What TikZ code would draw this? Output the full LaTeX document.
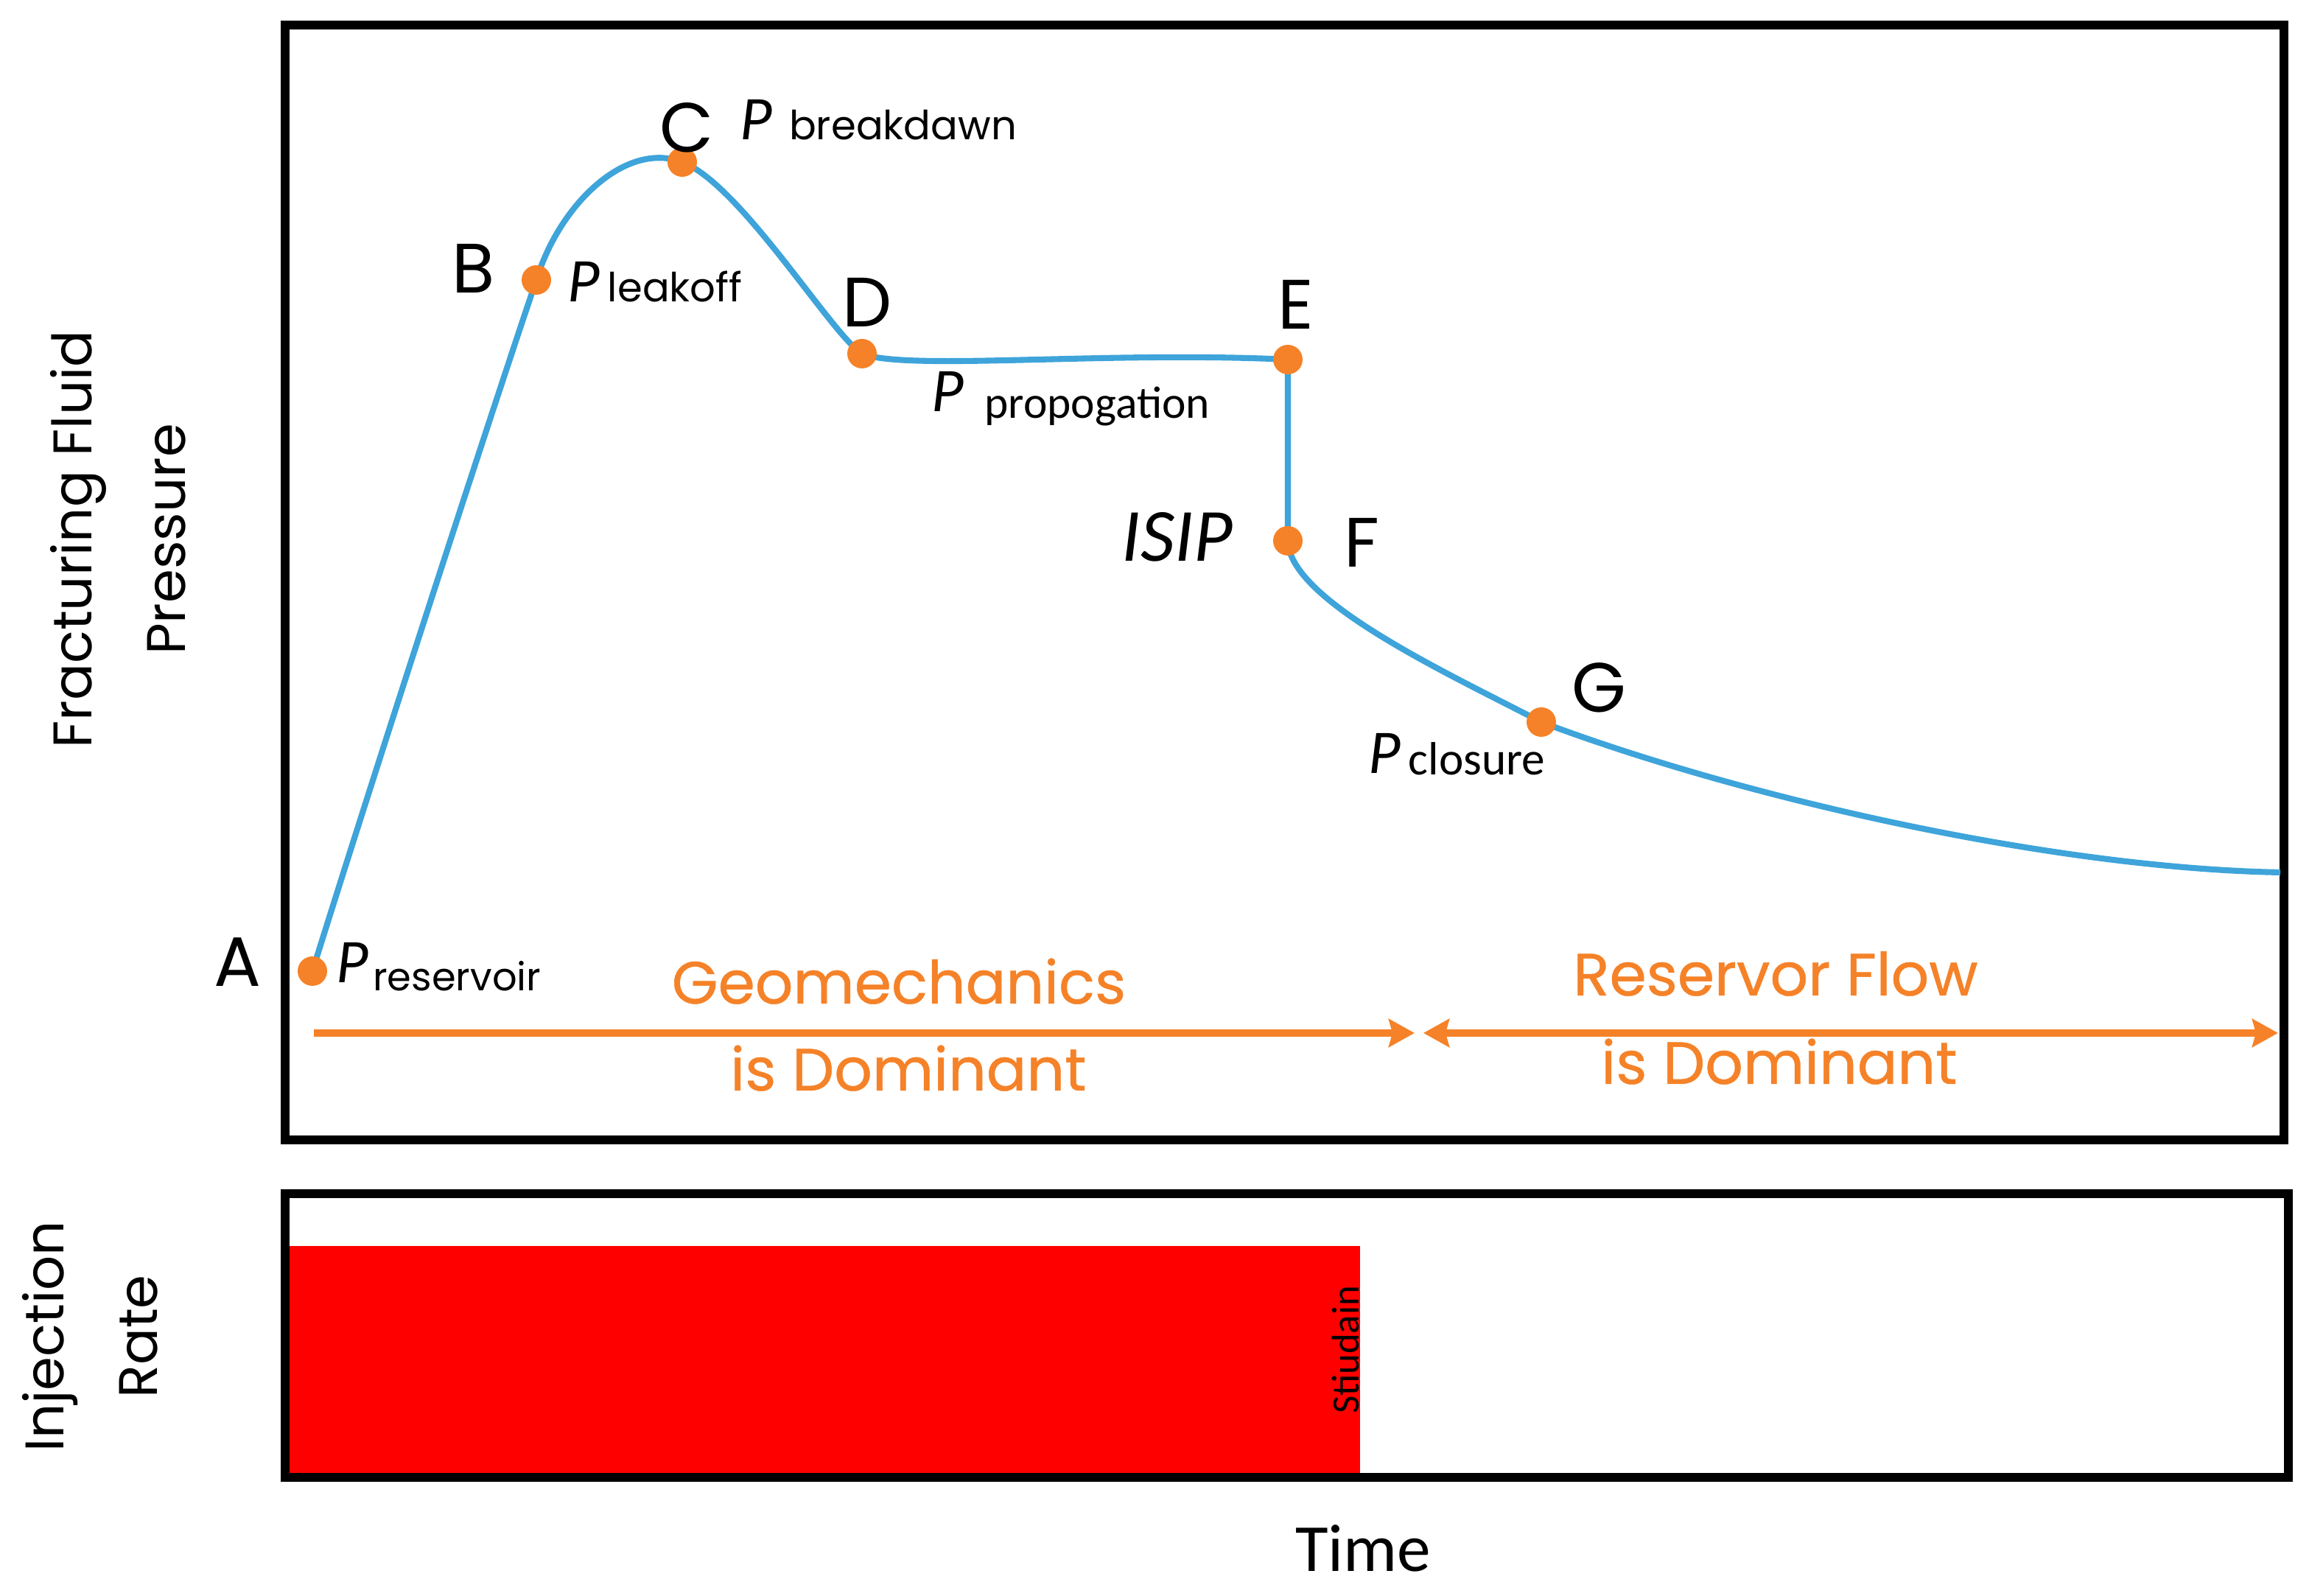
\documentclass[tikz,border=0pt]{standalone}
\usepackage{fontspec}
\setmainfont{Poppins}
\newfontfamily\calfont{Carlito}
\newfontfamily\orfont{Poppins}[FakeBold=0.6]
\usetikzlibrary{arrows.meta}
\definecolor{curveblue}{RGB}{62,164,218}
\definecolor{ptorange}{RGB}{245,130,40}
\newcommand{\pmark}{{\calfont\itshape\fontsize{24}{28}\selectfont P}}
\newcommand{\psubs}[3]{\pmark\hspace{#1}\raisebox{#2}{#3}}

\begin{document}
\begin{tikzpicture}[
    box/.style={draw=black,line width=3.5pt},
    ptdot/.style={circle,fill=ptorange,inner sep=0pt,minimum size=0.4cm},
    ptname/.style={inner sep=0pt,anchor=base,font=\fontsize{27}{32}\selectfont},
    plabel/.style={inner sep=0pt,anchor=base west},
    regime/.style={inner sep=0pt,anchor=base,text=ptorange,font=\orfont\fontsize{23}{28}\selectfont},
    regarrow/.style={draw=ptorange,line width=2.8pt},
    axis/.style={align=center,rotate=90,font=\fontsize{21}{36}\selectfont}
]
\useasboundingbox (0,0) rectangle (31.34,21.66);
\fill[red] (3.92,1.65) rectangle (18.46,4.75);
\begin{scope}
    \clip (3.92,1.65) rectangle (18.46,4.75);
    \node[rotate=90,anchor=base,inner sep=0pt,font=\calfont\fontsize{15}{18}\selectfont] (stopLbl) at (18.44,3.34) {Stiudain};
\end{scope}
\draw[box] (3.87,6.19) rectangle (31.0,21.32);
\draw[box] (3.87,1.61) rectangle (31.06,5.46);

\foreach \n/\x/\y in {A/4.24/8.48,B/7.28/17.86,C/9.26/19.46,D/11.70/16.86,E/17.48/16.78,F/17.48/14.32,G/20.92/11.86}
    \coordinate (\n) at (\x,\y);
\coordinate (tail) at (30.95,9.82);

\draw[curveblue,line width=2.3pt] (A) .. controls (5.24,11.68) and (6.80,16.45) .. (B)
    .. controls (7.6,18.9) and (8.5,19.75) .. (C)
    .. controls (10.05,19.16) and (11.3,17.1) .. (D)
    .. controls (12.3,16.62) and (15.0,16.9) .. (E) -- (F)
    .. controls (17.5,13.5) and (19.7,12.5) .. (G)
    .. controls (23.6,10.85) and (27.8,9.88) .. (tail);

\foreach \n in {A,B,C,D,E,F,G}
    \node[ptdot] (dot\n) at (\n) {};

\foreach \n/\x/\y in {A/3.22/8.27,B/6.43/17.68,C/9.32/19.59,D/11.77/17.22,E/17.59/17.19,F/18.48/13.96,G/21.70/11.99}
    \node[ptname] (lbl\n) at (\x,\y) {\n};

\node[plabel] (pRes) at (4.56,8.32) {\psubs{1.7pt}{-3pt}{\fontsize{15}{18}\selectfont reservoir}};
\node[plabel] (pLeak) at (7.70,17.56) {\psubs{3pt}{0pt}{\fontsize{15.5}{18}\selectfont leakoff}};
\node[plabel] (pBreak) at (10.04,19.76) {\psubs{6.5pt}{0pt}{\fontsize{15.5}{18}\selectfont breakdawn}};
\node[plabel] (pProp) at (12.64,16.07) {\psubs{8pt}{-2.3pt}{\calfont\fontsize{17.5}{20}\selectfont propogation}};
\node[plabel] (pClose) at (18.57,11.16) {\psubs{3pt}{-0.5pt}{\calfont\fontsize{18}{20}\selectfont closure}};
\node[inner sep=0pt,anchor=base,font=\calfont\itshape\fontsize{29}{32}\selectfont] (isip) at (15.98,14.04) {ISIP};

\node[regime] (geoTop) at (12.20,8.04) {Geomechanics};
\node[regime] (geoBot) at (12.33,6.86) {is Dominant};
\node[regime] (resTop) at (24.10,8.15) {Reservor Flow};
\node[regime] (resBot) at (24.15,6.95) {is Dominant};
\coordinate (geoL) at (4.26,7.64);
\coordinate (geoR) at (19.20,7.64);
\coordinate (resL) at (19.32,7.64);
\coordinate (resR) at (30.92,7.64);
\draw[regarrow,-{Stealth[length=0.35cm,width=0.38cm,inset=0.05cm]}] (geoL) -- (geoR);
\draw[regarrow,{Stealth[length=0.35cm,width=0.38cm,inset=0.05cm]}-{Stealth[length=0.35cm,width=0.38cm,inset=0.05cm]}] (resL) -- (resR);

\node[axis] (pressLbl) at (1.60,14.34) {Fracturing Fluid\\Pressure};
\node[axis] (rateLbl) at (1.22,3.52) {Injection\\Rate};
\node[inner sep=0pt,anchor=base,font=\calfont\fontsize{26}{30}\selectfont] (timeLbl) at (18.50,0.33) {Time};
\end{tikzpicture}
\end{document}
